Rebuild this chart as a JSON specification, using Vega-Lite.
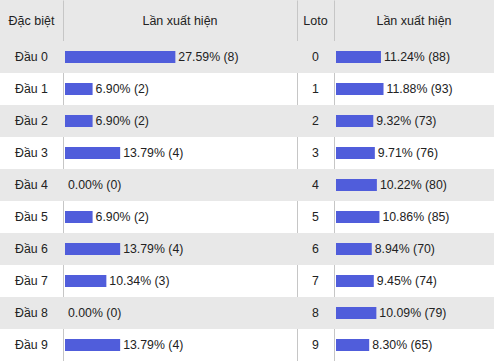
{
  "$schema": "https://vega.github.io/schema/vega-lite/v6.json",
  "padding": 0,
  "background": "white",
  "spacing": 0,
  "datasets": {
    "rows": [
      {"d": 0, "db": "Đầu 0", "p1": 27.59, "l1": "27.59% (8)", "p2": 11.24, "l2": "11.24% (88)"},
      {"d": 1, "db": "Đầu 1", "p1": 6.90, "l1": "6.90% (2)", "p2": 11.88, "l2": "11.88% (93)"},
      {"d": 2, "db": "Đầu 2", "p1": 6.90, "l1": "6.90% (2)", "p2": 9.32, "l2": "9.32% (73)"},
      {"d": 3, "db": "Đầu 3", "p1": 13.79, "l1": "13.79% (4)", "p2": 9.71, "l2": "9.71% (76)"},
      {"d": 4, "db": "Đầu 4", "p1": 0.00, "l1": "0.00% (0)", "p2": 10.22, "l2": "10.22% (80)"},
      {"d": 5, "db": "Đầu 5", "p1": 6.90, "l1": "6.90% (2)", "p2": 10.86, "l2": "10.86% (85)"},
      {"d": 6, "db": "Đầu 6", "p1": 13.79, "l1": "13.79% (4)", "p2": 8.94, "l2": "8.94% (70)"},
      {"d": 7, "db": "Đầu 7", "p1": 10.34, "l1": "10.34% (3)", "p2": 9.45, "l2": "9.45% (74)"},
      {"d": 8, "db": "Đầu 8", "p1": 0.00, "l1": "0.00% (0)", "p2": 10.09, "l2": "10.09% (79)"},
      {"d": 9, "db": "Đầu 9", "p1": 13.79, "l1": "13.79% (4)", "p2": 8.30, "l2": "8.30% (65)"}
    ]
  },
  "config": {
    "view": {"stroke": null},
    "font": "Liberation Sans",
    "text": {"font": "Liberation Sans", "fontSize": 12.3, "color": "#222222", "baseline": "middle"},
    "axis": {"domain": true, "domainColor": "#c6c6c6", "domainWidth": 1, "ticks": false, "labels": false, "title": null, "grid": false, "zindex": 1}
  },
  "vconcat": [
    {
      "spacing": 0,
      "bounds": "flush",
      "hconcat": [
        {
          "width": 63, "height": 41,
          "view": {"fill": "#e8e8e8", "stroke": null},
          "data": {"values": [{"h": "Đặc biệt"}]},
          "mark": {"type": "text", "fontSize": 12.5},
          "encoding": {"text": {"field": "h"}}
        },
        {
          "width": 234, "height": 41,
          "view": {"fill": "#e8e8e8", "stroke": null},
          "data": {"values": [{"h": "Lần xuất hiện"}]},
          "mark": {"type": "text", "fontSize": 12.5},
          "encoding": {
            "y": {"field": "h", "type": "nominal", "scale": {"padding": 0}},
            "text": {"field": "h"}
          }
        },
        {
          "width": 37, "height": 41,
          "view": {"fill": "#e8e8e8", "stroke": null},
          "data": {"values": [{"h": "Loto"}]},
          "mark": {"type": "text", "fontSize": 12.5},
          "encoding": {
            "y": {"field": "h", "type": "nominal", "scale": {"padding": 0}},
            "text": {"field": "h"}
          }
        },
        {
          "width": 160, "height": 41,
          "view": {"fill": "#e8e8e8", "stroke": null},
          "data": {"values": [{"h": "Lần xuất hiện"}]},
          "mark": {"type": "text", "fontSize": 12.5},
          "encoding": {
            "y": {"field": "h", "type": "nominal", "scale": {"padding": 0}},
            "text": {"field": "h"}
          }
        }
      ]
    },
    {
      "spacing": 0,
      "bounds": "flush",
      "hconcat": [
        {
          "width": 63, "height": 320,
          "data": {"name": "rows"},
          "layer": [
            {
              "transform": [{"filter": "datum.d % 2 == 0"}],
              "mark": {"type": "rect", "color": "#e8e8e8"},
              "encoding": {"y": {"field": "d", "type": "ordinal", "scale": {"padding": 0}, "axis": null}}
            },
            {
              "mark": {"type": "text"},
              "encoding": {
                "y": {"field": "d", "type": "ordinal", "scale": {"padding": 0}, "axis": null},
                "text": {"field": "db"}
              }
            }
          ]
        },
        {
          "width": 234, "height": 320,
          "data": {"name": "rows"},
          "encoding": {
            "y": {"field": "d", "type": "ordinal", "scale": {"padding": 0}}
          },
          "layer": [
            {
              "transform": [{"filter": "datum.d % 2 == 0"}],
              "mark": {"type": "rect", "color": "#e8e8e8"}
            },
            {
              "mark": {"type": "bar", "color": "#505ddb", "size": 12},
              "encoding": {"x": {"field": "p1", "type": "quantitative", "scale": {"domain": [-0.5, 58], "nice": false, "zero": false}, "axis": null}}
            },
            {
              "mark": {"type": "text", "align": "left", "dx": 3},
              "encoding": {
                "x": {"field": "p1", "type": "quantitative", "scale": {"domain": [-0.5, 58], "nice": false, "zero": false}, "axis": null},
                "text": {"field": "l1"}
              }
            }
          ]
        },
        {
          "width": 37, "height": 320,
          "data": {"name": "rows"},
          "encoding": {
            "y": {"field": "d", "type": "ordinal", "scale": {"padding": 0}}
          },
          "layer": [
            {
              "transform": [{"filter": "datum.d % 2 == 0"}],
              "mark": {"type": "rect", "color": "#e8e8e8"}
            },
            {
              "mark": {"type": "text"},
              "encoding": {"text": {"field": "d"}}
            }
          ]
        },
        {
          "width": 160, "height": 320,
          "data": {"name": "rows"},
          "encoding": {
            "y": {"field": "d", "type": "ordinal", "scale": {"padding": 0}}
          },
          "layer": [
            {
              "transform": [{"filter": "datum.d % 2 == 0"}],
              "mark": {"type": "rect", "color": "#e8e8e8"}
            },
            {
              "mark": {"type": "bar", "color": "#505ddb", "size": 12},
              "encoding": {"x": {"field": "p2", "type": "quantitative", "scale": {"domain": [-0.5, 39.5], "nice": false, "zero": false}, "axis": null}}
            },
            {
              "mark": {"type": "text", "align": "left", "dx": 3},
              "encoding": {
                "x": {"field": "p2", "type": "quantitative", "scale": {"domain": [-0.5, 39.5], "nice": false, "zero": false}, "axis": null},
                "text": {"field": "l2"}
              }
            }
          ]
        }
      ]
    }
  ]
}
